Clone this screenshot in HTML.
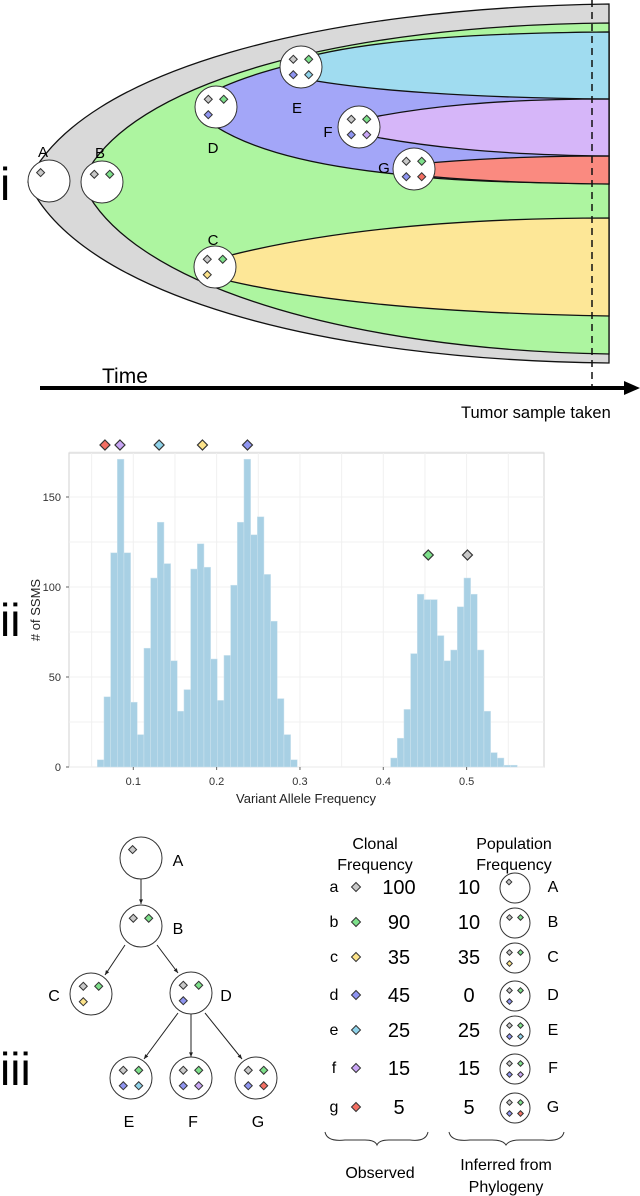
<!DOCTYPE html>
<html><head><meta charset="utf-8"><style>
html,body{margin:0;padding:0;background:#fff;}
svg{display:block;font-family:"Liberation Sans",Arial,sans-serif;}
</style></head><body>
<svg id="fig" width="640" height="1196" viewBox="0 0 640 1196" xmlns="http://www.w3.org/2000/svg">
<!-- Panel i -->
<g id="panel-i" stroke="#111" stroke-width="1.3">
  <path d="M609,4 C320,8 80,70 28,182 C80,295 320,360 609,363 Z" fill="#d9d9d9"/>
  <path d="M609,23 C350,25 125,80 82,182 C125,285 350,350 609,354 Z" fill="#adf5a0"/>
  <path d="M198,100 C260,60 420,33 609,32 L609,184 C520,183 440,180 405,175 C300,165 235,145 200,115 Z" fill="#a3a6f8"/>
  <path d="M290,62 C350,42 460,33 609,32 L609,99 C470,98 360,90 300,78 Z" fill="#a0dcf0"/>
  <path d="M350,122 C420,106 500,99 609,99 L609,156 C500,155 420,147 350,132 Z" fill="#d6b6f9"/>
  <path d="M405,165 C470,159 530,156 609,156 L609,184 C520,183 460,180 405,174 Z" fill="#fa8a80"/>
  <path d="M205,262 C300,235 430,218 609,218 L609,316 C430,313 300,300 205,275 Z" fill="#fde797"/>
  <line x1="592" y1="0" x2="592" y2="390" stroke-dasharray="7,5" stroke-width="1.5"/>
</g>
<g>
  <line x1="40" y1="388" x2="628" y2="388" stroke="#000" stroke-width="4"/>
  <polygon points="640,388 624,381 624,395" fill="#000"/>
  <text x="102" y="383" font-size="21">Time</text>
  <text x="461" y="418" font-size="16.5">Tumor sample taken</text>
</g>
<text x="0" y="200" font-size="46">i</text>
<g id="panel-i-nodes"></g>

<!-- Panel ii -->
<text x="0" y="636" font-size="46">ii</text>
<g id="hist"></g>

<!-- Panel iii -->
<text x="0" y="1085" font-size="46">iii</text>
<g id="tree"></g>
<g id="table" font-size="16" text-anchor="middle">
  <text x="375" y="849">Clonal</text>
  <text x="375" y="870">Frequency</text>
  <text x="514" y="849">Population</text>
  <text x="514" y="870">Frequency</text>
  <path d="M325,1132 Q327,1142 345,1140 L365,1140 Q375,1140 377,1145 Q379,1140 389,1140 L410,1140 Q426,1142 428,1132" fill="none" stroke="#333" stroke-width="1"/>
  <path d="M449,1132 Q451,1142 470,1140 L492,1140 Q503,1140 506,1145 Q509,1140 520,1140 L543,1140 Q562,1142 564,1132" fill="none" stroke="#333" stroke-width="1"/>
  <text x="380" y="1178">Observed</text>
  <text x="506" y="1170">Inferred from</text>
  <text x="506" y="1192">Phylogeny</text>
</g>

<script>
// ---- Histogram data ----
const binStart = 0.0568;
const binWidth = 0.008;
const counts = [4,39,119,171,119,36,18,66,105,136,113,59,31,43,110,124,111,60,37,62,101,136,171,129,139,107,81,38,18,4,
  0,0,0,0,0,0,0,0,0,0,0,0,0,0,
  5,16,32,63,96,93,93,73,59,65,89,105,96,65,31,8,5,1,1];
const xTicks = [0.1,0.2,0.3,0.4,0.5];
const yTicks = [0,50,100,150];
const markerVafs = [0.066,0.084,0.131,0.183,0.237,0.454,0.501];
const markerColors = ['#f36f63','#c9a6f5','#8fd3ea','#fce38a','#8f95f0','#7de08a','#c8c8c8'];
const markerHigh = [true,true,true,true,true,false,false];

const NS='http://www.w3.org/2000/svg';
function mk(tag,attrs,parent){const e=document.createElementNS(NS,tag);for(const k in attrs)e.setAttribute(k,attrs[k]);parent.appendChild(e);return e;}
const px0=69,px1=544,py0=453,py1=767;
const xs=v=>133.3+(v-0.1)*833.3;
const ys=v=>py1-v*1.8;
const hist=document.getElementById('hist');
let r=mk('rect',{x:px0,y:py0,width:px1-px0,height:py1-py0,fill:'#fff',stroke:'#d8d8d8','stroke-width':1.2},hist);


for(let v=0.05;v<0.56;v+=0.05){const l=mk('line',{x1:xs(v),x2:xs(v),y1:py0,y2:py1,stroke:'#f0f0f0','stroke-width':1},hist);

}
for(let v=0;v<=175;v+=25){const l=mk('line',{x1:px0,x2:px1,y1:ys(v),y2:ys(v),stroke:'#f0f0f0','stroke-width':1},hist);

}
counts.forEach((c,i)=>{if(!c)return;const x=xs(binStart+i*binWidth);const b=mk('rect',{x:x,y:ys(c),width:xs(binStart+(i+1)*binWidth)-x,height:py1-ys(c),fill:'#a8d0e4',stroke:'#cfe4ef','stroke-width':0.5},hist);

});
xTicks.forEach(v=>{const t=mk('text',{x:xs(v),y:785,'font-size':11,'text-anchor':'middle',fill:'#333'},hist);t.textContent=String(v);


mk('line',{x1:xs(v),x2:xs(v),y1:py1,y2:py1+3,stroke:'#666'},hist);});
yTicks.forEach(v=>{const t=mk('text',{x:61,y:ys(v)+4,'font-size':11,'text-anchor':'end',fill:'#333'},hist);t.textContent=String(v);


mk('line',{x1:px0-3,x2:px0,y1:ys(v),y2:ys(v),stroke:'#666'},hist);});
let xt=mk('text',{x:306,y:803,'font-size':13,'text-anchor':'middle',fill:'#222'},hist);xt.textContent='Variant Allele Frequency';


let yt=mk('text',{x:0,y:0,'font-size':13,'text-anchor':'middle',fill:'#222',transform:'translate(40,610) rotate(-90)'},hist);yt.textContent='# of SSMS';



function diamond(parent,x,y,s,color,sw){return mk('polygon',{points:`${x},${y-s} ${x+s},${y} ${x},${y+s} ${x-s},${y}`,fill:color,stroke:'#333','stroke-width':sw||1},parent);}
markerVafs.forEach((v,i)=>{const d=diamond(hist,xs(v),markerHigh[i]?445:555,5,markerColors[i],1.2);

});

// ---- node glyphs ----
const G='#c8c8c8',GR='#7de08a',Y='#fce38a',B='#8f95f0',LB='#8fd3ea',P='#c9a6f5',R='#f36f63';
function node(parent,cx,cy,rx,ry,cols,ds,name){
 const g=mk('g',{},parent);
 
 
 mk('ellipse',{cx:cx,cy:cy,rx:rx,ry:ry,fill:'#fff',stroke:'#333','stroke-width':1},g);
 const off=[[-0.35,-0.35],[0.35,-0.35],[-0.35,0.35],[0.35,0.35]];
 if(cols.length===1){diamond(g,cx-rx*0.4,cy-ry*0.4,ds,cols[0]);}
 else cols.forEach((c,i)=>diamond(g,cx+off[i][0]*rx*1.05,cy+off[i][1]*ry*1.05,ds,c));
 return g;
}
function label(parent,x,y,t,fs,name){const e=mk('text',{x:x,y:y,'font-size':fs,'text-anchor':'middle'},parent);e.textContent=t;

return e;}
const pn=document.getElementById('panel-i-nodes');
node(pn,49,181,21,21,[G],4,'node-a');
node(pn,102,182,21,21,[G,GR],4,'node-b');
node(pn,216,107,21,21,[G,GR,B],4,'node-d');
node(pn,301,67,21,21,[G,GR,B,LB],4,'node-e');
node(pn,359,127,21,21,[G,GR,B,P],4,'node-f');
node(pn,414,169,21,21,[G,GR,B,R],4,'node-g');
node(pn,215,267,21,21,[G,GR,Y],4,'node-c');
[['A',43,157],['B',100,158],['D',213,153],['E',297,113],['F',328,137],['G',384,173],['C',213,245]].forEach(a=>label(pn,a[1],a[2],a[0],15,'clone-label'));

// ---- tree ----
const tr=document.getElementById('tree');
const edges=[[141,879,141,904],[125,945,105,975],[157,945,178,973],[178,1013,144,1059],[191,1014,191,1057],[205,1013,242,1059]];
edges.forEach(e=>{const l=mk('line',{x1:e[0],y1:e[1],x2:e[2],y2:e[3],stroke:'#222','stroke-width':1},tr);


const a=Math.atan2(e[3]-e[1],e[2]-e[0]);const s=5;
mk('polygon',{points:`${e[2]},${e[3]} ${e[2]-s*Math.cos(a-0.4)},${e[3]-s*Math.sin(a-0.4)} ${e[2]-s*Math.cos(a+0.4)},${e[3]-s*Math.sin(a+0.4)}`,fill:'#222'},tr);});
node(tr,141,858,21,21,[G],4,'tree-node-a');
node(tr,141,926,21,21,[G,GR],4,'tree-node-b');
node(tr,91,994,21,21,[G,GR,Y],4,'tree-node-c');
node(tr,191,993,21,21,[G,GR,B],4,'tree-node-d');
node(tr,131,1078,21,21,[G,GR,B,LB],4,'tree-node-e');
node(tr,191,1078,21,21,[G,GR,B,P],4,'tree-node-f');
node(tr,256,1078,21,21,[G,GR,B,R],4,'tree-node-g');
[['A',178,866],['B',178,934],['C',54,1001],['D',226,1001],['E',129,1127],['F',193,1127],['G',258,1127]].forEach(a=>label(tr,a[1],a[2],a[0],16,'tree-label'));

// ---- table ----
const rowLetters=['a','b','c','d','e','f','g'];
const rowClonal=[100,90,35,45,25,15,5];
const rowPop=[10,10,35,0,25,15,5];
const rowCols=[[G],[G,GR],[G,GR,Y],[G,GR,B],[G,GR,B,LB],[G,GR,B,P],[G,GR,B,R]];
const mutCols=[G,GR,Y,B,LB,P,R];
const rowY=[887,922,957,995,1030,1068,1107];
const tb=document.getElementById('table');
rowLetters.forEach((l,i)=>{const y=rowY[i];
 label(tb,334,y+5,l,16,'mutation-letter');
 const d=diamond(tb,356,y,4.5,mutCols[i]);
 
 
 label(tb,399,y+7,String(rowClonal[i]),20,'clonal-frequency-value');
 label(tb,469,y+7,String(rowPop[i]),20,'population-frequency-value');
 node(tb,515,y+1,15,15,rowCols[i],2.8,'population-node');
 label(tb,553,y+5,rowLetters[i].toUpperCase(),16,'population-label');
});
</script>
</body></html>
